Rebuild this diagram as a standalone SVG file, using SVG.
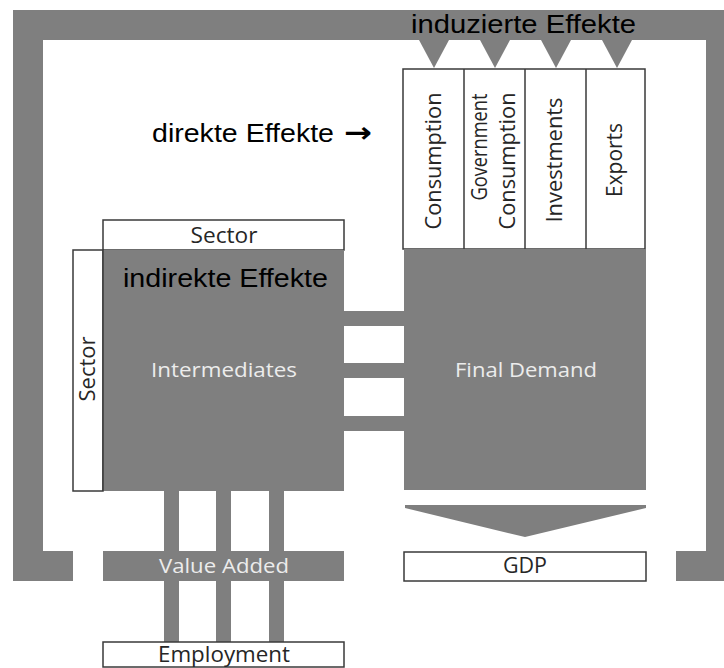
<svg xmlns="http://www.w3.org/2000/svg" width="724" height="668" viewBox="0 0 724 668">
<style>
.g{fill:#7f7f7f}
.w{fill:#ffffff;stroke:#3a3a3a;stroke-width:1.5}
.t{font-family:"Open Sans","DejaVu Sans",sans-serif;font-size:21px;fill:#262626;text-anchor:middle}
.tl{font-family:"Open Sans","DejaVu Sans",sans-serif;font-size:20px;fill:#ececec;text-anchor:middle}
.a{font-family:"Liberation Sans",Arial,sans-serif;font-size:26px;fill:#000000}
</style>
<rect width="724" height="668" fill="#ffffff"/>
<g id="frame">
<rect class="g" x="13" y="10" width="711" height="30"/>
<rect class="g" x="13" y="10" width="30" height="571"/>
<rect class="g" x="13" y="551" width="60" height="30"/>
<rect class="g" x="706" y="10" width="18" height="571"/>
<rect class="g" x="676" y="551" width="48" height="30"/>
</g>
<g id="connectors">
<polygon class="g" points="419,40 449,40 434,68"/>
<polygon class="g" points="480,40 510,40 495,68"/>
<polygon class="g" points="541,40 571,40 556,68"/>
<polygon class="g" points="602,40 632,40 617,68"/>
<rect class="g" x="344" y="311" width="60" height="15"/>
<rect class="g" x="344" y="363" width="60" height="15"/>
<rect class="g" x="344" y="416" width="60" height="15"/>
<rect class="g" x="164" y="491" width="15" height="151"/>
<rect class="g" x="216" y="491" width="15" height="151"/>
<rect class="g" x="269" y="491" width="15" height="151"/>
<polygon class="g" points="405,505 646,505 646,508 525,537 405,508"/>
</g>
<g id="final-demand-columns">
<rect class="w" x="403" y="69" width="242" height="180"/>
<line x1="464" y1="69" x2="464" y2="249" stroke="#3a3a3a" stroke-width="1.5"/>
<line x1="525" y1="69" x2="525" y2="249" stroke="#3a3a3a" stroke-width="1.5"/>
<line x1="586" y1="69" x2="586" y2="249" stroke="#3a3a3a" stroke-width="1.5"/>
<text class="t" transform="translate(441,161) rotate(-90)" textLength="137" lengthAdjust="spacingAndGlyphs">Consumption</text>
<text class="t" transform="translate(487,147) rotate(-90)" textLength="107" lengthAdjust="spacingAndGlyphs">Government</text>
<text class="t" transform="translate(515,161) rotate(-90)" textLength="137" lengthAdjust="spacingAndGlyphs">Consumption</text>
<text class="t" transform="translate(562,160) rotate(-90)" textLength="125" lengthAdjust="spacingAndGlyphs">Investments</text>
<text class="t" transform="translate(622,160) rotate(-90)" textLength="74" lengthAdjust="spacingAndGlyphs">Exports</text>
</g>
<g id="final-demand">
<rect class="g" x="404" y="249" width="242" height="241"/>
<text class="tl" x="526" y="377" textLength="142" lengthAdjust="spacingAndGlyphs">Final Demand</text>
</g>
<g id="sector-top">
<rect class="w" x="103" y="220" width="241" height="30"/>
<text class="t" x="224" y="243" textLength="67" lengthAdjust="spacingAndGlyphs">Sector</text>
</g>
<g id="sector-left">
<rect class="w" x="73" y="250" width="30" height="241"/>
<text class="t" transform="translate(95,369) rotate(-90)" textLength="65" lengthAdjust="spacingAndGlyphs">Sector</text>
</g>
<g id="intermediates">
<rect class="g" x="103" y="250" width="241" height="241"/>
<line x1="103" y1="250" x2="103" y2="491" stroke="#3a3a3a" stroke-width="1.5"/>
<text class="tl" x="224" y="377" textLength="146" lengthAdjust="spacingAndGlyphs">Intermediates</text>
</g>
<g id="value-added">
<rect class="g" x="103" y="551" width="241" height="30"/>
<text class="tl" x="224" y="573" textLength="130" lengthAdjust="spacingAndGlyphs">Value Added</text>
</g>
<g id="gdp">
<rect class="w" x="404" y="552" width="242" height="29"/>
<text class="t" x="525" y="573" textLength="44" lengthAdjust="spacingAndGlyphs">GDP</text>
</g>
<g id="employment">
<rect class="w" x="103" y="642" width="241" height="25"/>
<text class="t" x="224" y="662" textLength="132" lengthAdjust="spacingAndGlyphs">Employment</text>
</g>
<g id="labels">
<text class="a" x="411" y="33" textLength="225" lengthAdjust="spacingAndGlyphs">induzierte Effekte</text>
<text class="a" x="152" y="142" textLength="182" lengthAdjust="spacingAndGlyphs">direkte Effekte</text>
<text x="344" y="142" font-family="DejaVu Sans, sans-serif" font-size="28" font-weight="bold" fill="#000000" textLength="28" lengthAdjust="spacingAndGlyphs">→</text>
<text class="a" x="123" y="287" textLength="205" lengthAdjust="spacingAndGlyphs">indirekte Effekte</text>
</g>
</svg>
